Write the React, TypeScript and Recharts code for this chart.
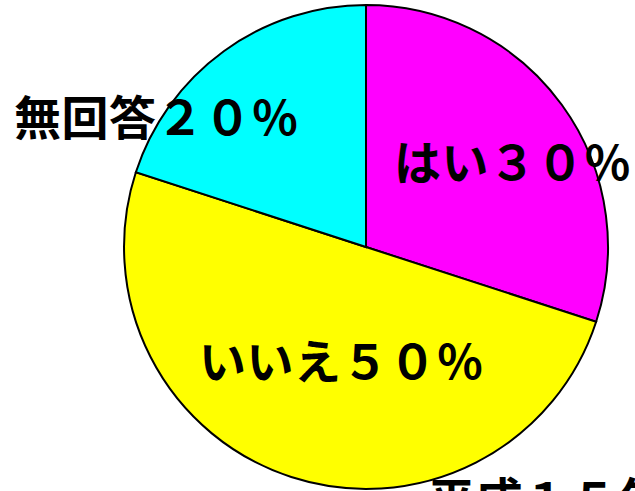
import React from 'react';
import { PieChart, Pie, Cell } from 'recharts';

const labels = ['はい', 'いいえ', '無回答'];
const shares = [30, 50, 20];
const colors = ['#FF00FF', '#FFFF00', '#00FFFF'];
// label anchor points (text start x, middle y)
const labelSpots = [
  { x: 394, y: 159 },
  { x: 199, y: 358 },
  { x: 14, y: 114 },
];

const toWide = (s: string) =>
  s.replace(/[0-9]/g, (d) => String.fromCharCode(d.charCodeAt(0) + 0xfee0));

const data = labels.map((name, i) => ({ name, value: shares[i] }));

const font = '"Noto Sans CJK JP", "Noto Sans", sans-serif';

const renderLabel = (props: any) => {
  const spot = labelSpots[props.index];
  return (
    <text
      x={spot.x}
      y={spot.y}
      textAnchor="start"
      dominantBaseline="central"
      fontFamily={font}
      fontWeight="bold"
      fontSize={47}
      letterSpacing={0.5}
      fill="#000"
    >
      {props.name + toWide(String(props.value)) + '％'}
    </text>
  );
};

export default function App() {
  return (
    <div style={{ position: 'absolute', left: 0, top: 0, width: 635, height: 491, background: '#fff', overflow: 'hidden' }}>
      <PieChart width={635} height={491} margin={{ top: 0, right: 0, bottom: 0, left: 0 }}>
        <Pie
          data={data}
          dataKey="value"
          nameKey="name"
          cx={366}
          cy={247}
          outerRadius={242}
          startAngle={90}
          endAngle={-270}
          stroke="#000"
          strokeWidth={2}
          label={renderLabel}
          labelLine={false}
          isAnimationActive={false}
        >
          {data.map((d, i) => (
            <Cell key={d.name} fill={colors[i]} />
          ))}
        </Pie>
        <text
          x={428}
          y={496}
          textAnchor="start"
          dominantBaseline="central"
          fontFamily={font}
          fontWeight="bold"
          fontSize={47}
          letterSpacing={0.5}
          fill="#000"
        >
          平成１５年
        </text>
      </PieChart>
    </div>
  );
}
